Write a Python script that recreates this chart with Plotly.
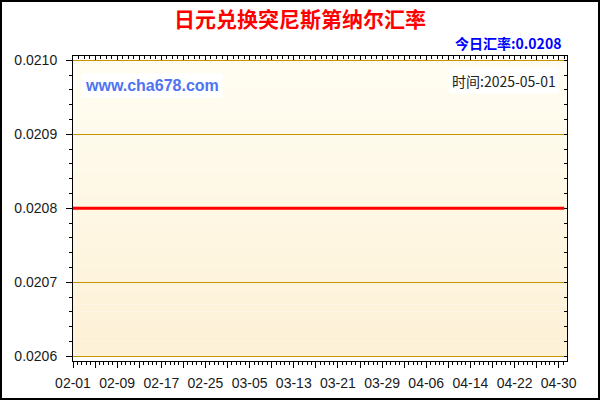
import plotly.graph_objects as go
import pandas as pd

# ---- data ----
dates = pd.date_range("2025-02-01", "2025-05-01", freq="D").strftime("%Y-%m-%d").tolist()
rates = [
    0.0208, 0.0208, 0.0208, 0.0208, 0.0208, 0.0208, 0.0208, 0.0208, 0.0208, 0.0208,
    0.0208, 0.0208, 0.0208, 0.0208, 0.0208, 0.0208, 0.0208, 0.0208, 0.0208, 0.0208,
    0.0208, 0.0208, 0.0208, 0.0208, 0.0208, 0.0208, 0.0208, 0.0208, 0.0208, 0.0208,
    0.0208, 0.0208, 0.0208, 0.0208, 0.0208, 0.0208, 0.0208, 0.0208, 0.0208, 0.0208,
    0.0208, 0.0208, 0.0208, 0.0208, 0.0208, 0.0208, 0.0208, 0.0208, 0.0208, 0.0208,
    0.0208, 0.0208, 0.0208, 0.0208, 0.0208, 0.0208, 0.0208, 0.0208, 0.0208, 0.0208,
    0.0208, 0.0208, 0.0208, 0.0208, 0.0208, 0.0208, 0.0208, 0.0208, 0.0208, 0.0208,
    0.0208, 0.0208, 0.0208, 0.0208, 0.0208, 0.0208, 0.0208, 0.0208, 0.0208, 0.0208,
    0.0208, 0.0208, 0.0208, 0.0208, 0.0208, 0.0208, 0.0208, 0.0208, 0.0208, 0.0208,
]
x_tick_labels = ["02-01", "02-09", "02-17", "02-25", "03-05", "03-13",
                 "03-21", "03-29", "04-06", "04-14", "04-22", "04-30"]
y_tick_vals = [0.0206, 0.0207, 0.0208, 0.0209, 0.0210]
y_tick_labels = ["0.0206", "0.0207", "0.0208", "0.0209", "0.0210"]
title_text = "日元兑换突尼斯第纳尔汇率"
site_text = "www.cha678.com"

# ---- layout geometry ----
W, H = 600, 400
L, R, T, B = 73, 33, 56, 39
PW, PH = W - L - R, H - T - B
YR = [0.0205936, 0.0210058]
XR = ["2025-02-01 00:00", "2025-05-01 12:00"]
GOLD = "#C99200"
DAY = 86400000

# major ticks every 4 days, labels every 8 days
tickvals, ticktext = [], []
for lab in x_tick_labels:
    d = pd.Timestamp("2025-" + lab)
    tickvals.append(d.strftime("%Y-%m-%d"))
    ticktext.append(lab)
    mid = d + pd.Timedelta(days=4)
    if mid <= pd.Timestamp("2025-05-01"):
        tickvals.append(mid.strftime("%Y-%m-%d"))
        ticktext.append("")

fig = go.Figure()
fig.add_trace(go.Scatter(x=dates, y=rates, mode="lines",
                         line=dict(color="#FF0000", width=3),
                         showlegend=False, hoverinfo="x+y"))
fig.add_trace(go.Scatter(x=dates, y=rates, mode="lines", xaxis="x2", yaxis="y2",
                         line=dict(color="rgba(0,0,0,0)", width=0),
                         showlegend=False, hoverinfo="skip"))

# background gradient
top_c = (255, 253, 242)
bot_c = (253, 241, 214)
N = 40
shapes = []
for i in range(N):
    f = i / (N - 1)
    c = tuple(round(top_c[k] + (bot_c[k] - top_c[k]) * f) for k in range(3))
    y1 = 0.0210 - (0.0004) * i / N
    y0 = 0.0210 - (0.0004) * (i + 1) / N
    shapes.append(dict(type="rect", xref="paper", yref="y", x0=0, x1=1, y0=y0, y1=y1,
                       fillcolor="rgb(%d,%d,%d)" % c, line=dict(width=0), layer="below"))
# outer border (1px inset, 2px wide)
shapes.append(dict(type="rect", xref="paper", yref="paper",
                   x0=(-L + 1) / PW, x1=1 + (R - 1) / PW, y0=(-B + 1) / PH, y1=1 + (T - 1) / PH,
                   line=dict(color="black", width=2), fillcolor="rgba(0,0,0,0)", layer="above"))

tick_font = dict(family="Liberation Sans, Arial, sans-serif", size=14, color="#1a1a1a")

fig.update_layout(
    width=W, height=H,
    margin=dict(l=L, r=R, t=T, b=B, autoexpand=False),
    paper_bgcolor="white", plot_bgcolor="white",
    shapes=shapes,
    title=dict(text=title_text, x=0.5, xref="container", xanchor="center",
               y=1 - 20 / H, yref="container", yanchor="middle",
               font=dict(family="Noto Sans CJK SC", size=21, color="#FF0000", weight="bold")),
    xaxis=dict(type="date", range=XR, tickmode="array", tickvals=tickvals, ticktext=ticktext,
               ticks="outside", ticklen=6, tickcolor="black", tickwidth=1, automargin=False,
               showline=True, linecolor="black", linewidth=1, showgrid=False, zeroline=False,
               tickfont=tick_font, ticklabelstandoff=3,
               minor=dict(dtick=DAY * 0.8, tick0="2025-02-01", ticks="outside", ticklen=3,
                          tickcolor="black", showgrid=False)),
    xaxis2=dict(type="date", range=XR, overlaying="x", side="top", anchor="y2", automargin=False,
                dtick=DAY * 4, tick0="2025-02-01", ticks="inside", ticklen=4, tickcolor="black",
                showticklabels=False, showline=True, linecolor="black", linewidth=1,
                showgrid=False, zeroline=False,
                minor=dict(dtick=DAY, tick0="2025-02-01", ticks="inside", ticklen=3,
                           tickcolor="black", showgrid=False)),
    yaxis=dict(range=YR, tickmode="array", tickvals=y_tick_vals, ticktext=y_tick_labels,
               ticks="outside", ticklen=6, tickcolor="black", automargin=False,
               showline=True, linecolor="black", linewidth=1,
               showgrid=True, gridcolor=GOLD, gridwidth=1, zeroline=False,
               tickfont=tick_font, ticklabelstandoff=6,
               minor=dict(dtick=0.00002, tick0=0.0206, ticks="outside", ticklen=3,
                          tickcolor="black", showgrid=False)),
    yaxis2=dict(range=YR, overlaying="y", side="right", anchor="x2", automargin=False,
                tickmode="linear", dtick=0.00002, tick0=0.0206,
                ticks="inside", ticklen=3, tickcolor="black", showticklabels=False,
                showline=True, linecolor="black", linewidth=1, showgrid=False, zeroline=False),
    annotations=[
        dict(text="<b>今日汇率:%.4f</b>" % rates[-1], xref="paper", yref="paper",
             x=(563 - L) / PW, y=(H - B - 43) / PH, xanchor="right", yanchor="middle",
             showarrow=False, font=dict(family="Noto Sans CJK SC", size=14, color="#0000FF")),
        dict(text="<b>%s</b>" % site_text, xref="paper", yref="paper",
             x=(81 - L) / PW, y=(H - B - 85) / PH, xanchor="left", yanchor="middle",
             showarrow=False, bgcolor="white", borderpad=3,
             font=dict(family="Liberation Sans, Arial, sans-serif", size=16, color="#4F73F2")),
        dict(text="时间:%s" % dates[-1], xref="paper", yref="paper",
             x=(559 - L) / PW, y=(H - B - 81) / PH, xanchor="right", yanchor="middle",
             showarrow=False, bgcolor="white", borderpad=2,
             font=dict(family="Noto Sans CJK SC", size=14, color="#222222")),
    ],
)

fig.write_html("out.html", config={"displayModeBar": False},
               post_script="document.body.style.margin='0';document.body.style.overflow='hidden';")
